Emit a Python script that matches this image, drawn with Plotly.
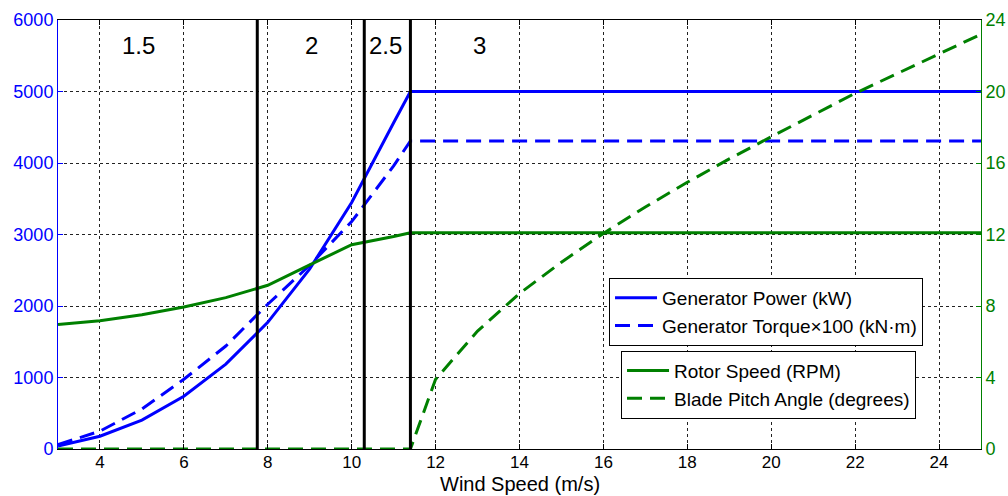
import plotly.graph_objects as go

# ---- data ----
wind = [3, 4, 5, 6, 7, 8, 9, 10, 11, 11.4, 12, 13, 14, 15, 16, 17, 18, 19, 20, 21, 22, 23, 24, 25]
gen_power = [40, 178, 404, 738, 1187, 1771, 2519, 3448, 4562, 5000, 5000, 5000, 5000, 5000,
             5000, 5000, 5000, 5000, 5000, 5000, 5000, 5000, 5000, 5000]
gen_torque_x100 = [61, 250, 560, 975, 1440, 2025, 2570, 3180, 3960, 4309, 4309, 4309, 4309, 4309,
                   4309, 4309, 4309, 4309, 4309, 4309, 4309, 4309, 4309, 4309]
rotor_speed = [6.97, 7.18, 7.51, 7.94, 8.47, 9.16, 10.3, 11.43, 11.89, 12.1, 12.1, 12.1, 12.1, 12.1,
               12.1, 12.1, 12.1, 12.1, 12.1, 12.1, 12.1, 12.1, 12.1, 12.1]
pitch = [0, 0, 0, 0, 0, 0, 0, 0, 0, 0, 3.9, 6.6, 8.7, 10.45, 12.06, 13.54, 14.92, 16.23, 17.47,
         18.68, 19.9, 21.0, 22.1, 23.2]

region_bounds = [7.75, 10.3, 11.4]
region_labels = ["1.5", "2", "2.5", "3"]
region_label_x = [4.93, 9.05, 10.8, 13.05]
region_label_y = 5650

x_ticks = [4, 6, 8, 10, 12, 14, 16, 18, 20, 22, 24]
left_ticks = [0, 1000, 2000, 3000, 4000, 5000, 6000]
right_ticks = [0, 4, 8, 12, 16, 20, 24]
x_title = "Wind Speed (m/s)"

BLUE = "#0000ff"
GREEN = "#008000"
FONT = "Liberation Sans, Arial, sans-serif"
DASH = "15px,8px"

fig = go.Figure()

fig.add_trace(go.Scatter(x=wind, y=gen_power, mode="lines", name="Generator Power (kW)",
                         line=dict(color=BLUE, width=3), legend="legend"))
fig.add_trace(go.Scatter(x=wind, y=gen_torque_x100, mode="lines",
                         name="Generator Torque×100 (kN·m)",
                         line=dict(color=BLUE, width=3, dash=DASH), legend="legend"))
fig.add_trace(go.Scatter(x=wind, y=rotor_speed, mode="lines", name="Rotor Speed (RPM)",
                         line=dict(color=GREEN, width=3), yaxis="y2", legend="legend2"))
fig.add_trace(go.Scatter(x=wind, y=pitch, mode="lines", name="Blade Pitch Angle (degrees)",
                         line=dict(color=GREEN, width=3, dash=DASH), yaxis="y2", legend="legend2"))

for xb in region_bounds:
    fig.add_shape(type="line", xref="x", yref="paper", x0=xb, x1=xb, y0=0, y1=1,
                  line=dict(color="black", width=3), layer="above")

for lab, lx in zip(region_labels, region_label_x):
    fig.add_annotation(x=lx, y=region_label_y, text=lab, showarrow=False,
                       font=dict(family=FONT, size=24, color="black"))

# x-axis title placed below the tick labels
fig.add_annotation(xref="paper", yref="paper", x=0.5, y=-0.1095, yanchor="bottom",
                   text=x_title, showarrow=False, borderpad=0,
                   font=dict(family=FONT, size=20, color="black"))

grid = dict(showgrid=True, gridcolor="#222222", griddash="dot", gridwidth=1)
leg_common = dict(xanchor="left", yanchor="top", bgcolor="white", bordercolor="black",
                  borderwidth=1, font=dict(size=19, color="black"), tracegroupgap=0,
                  itemwidth=42)

fig.update_layout(
    width=1008, height=496,
    margin=dict(l=58, r=27, t=20, b=47),
    paper_bgcolor="white", plot_bgcolor="white",
    font=dict(family=FONT, size=18, color="black"),
    xaxis=dict(range=[3, 25], tickvals=x_ticks, ticks="inside", ticklen=5, tickcolor="black",
               showline=True, linecolor="black", linewidth=1, mirror="ticks",
               zeroline=False, tickfont=dict(size=17, color="black"), automargin=False,
               ticklabelstandoff=-2, **grid),
    yaxis=dict(range=[0, 6000], tickvals=left_ticks, ticks="inside", ticklen=5, tickcolor=BLUE,
               showline=True, linecolor=BLUE, linewidth=1, zeroline=False, automargin=False,
               tickfont=dict(size=18, color=BLUE), **grid),
    yaxis2=dict(range=[0, 24], tickvals=right_ticks, ticks="inside", ticklen=5, tickcolor=GREEN,
                showline=True, linecolor=GREEN, linewidth=1, zeroline=False, automargin=False,
                overlaying="y", side="right", showgrid=False,
                tickfont=dict(size=18, color=GREEN)),
    legend=dict(x=0.597, y=0.399, **leg_common),
    legend2=dict(x=0.61, y=0.229, **leg_common),
    showlegend=True,
)

fig.write_html("out.html")
